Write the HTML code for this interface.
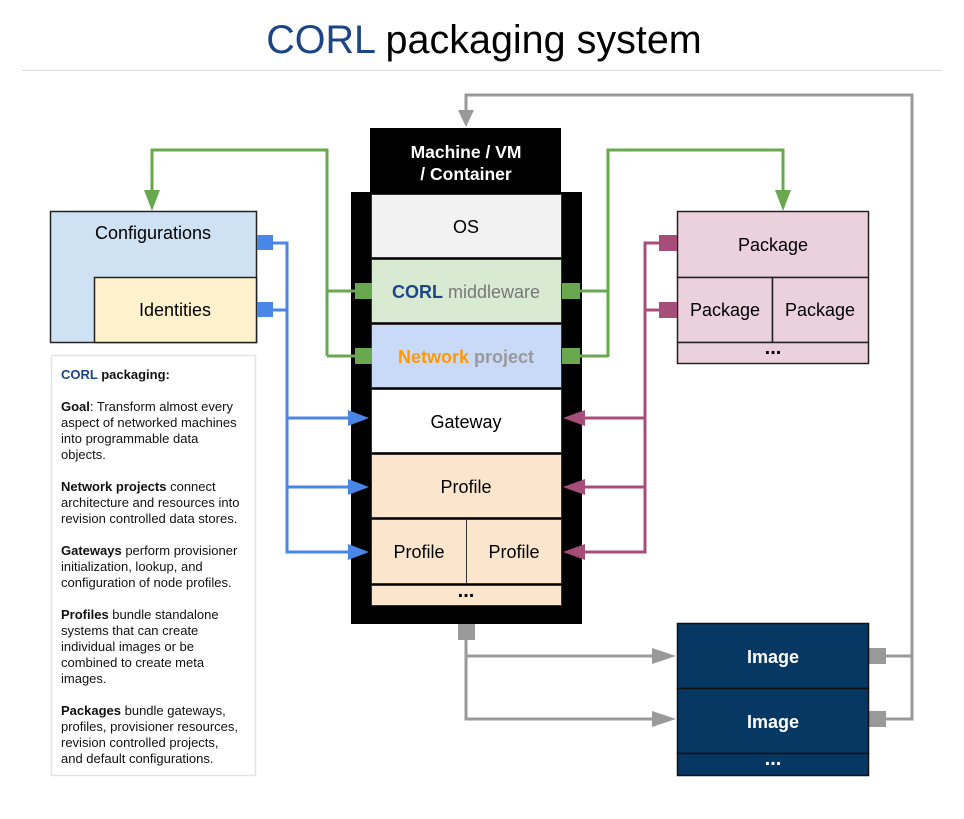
<!DOCTYPE html>
<html><head><meta charset="utf-8"><style>
body{margin:0;background:#fff;}
svg text{font-family:"Liberation Sans",Arial,sans-serif;}
</style></head><body>
<svg width="964" height="814" viewBox="0 0 964 814" xmlns="http://www.w3.org/2000/svg">
<rect width="964" height="814" fill="#fff"/>
<text x="484" y="53" font-size="39.5" text-anchor="middle"><tspan fill="#1c4587">CORL</tspan> packaging system</text>
<line x1="22" y1="70.5" x2="942" y2="70.5" stroke="#ddd" stroke-width="1"/>

<!-- gray top loop -->
<polyline points="886,719 912,719 912,95 466,95 466,112" fill="none" stroke="#999" stroke-width="3"/>
<line x1="886" y1="656" x2="912" y2="656" stroke="#999" stroke-width="3"/>
<polygon points="458,110 474,110 466,127" fill="#999"/>

<!-- machine -->
<rect x="370" y="128" width="191" height="66" fill="#000"/>
<text x="466" y="158" font-size="17.5" font-weight="bold" fill="#fff" text-anchor="middle">Machine / VM</text>
<text x="466" y="180" font-size="17.5" font-weight="bold" fill="#fff" text-anchor="middle">/ Container</text>
<rect x="351" y="192" width="231" height="432" fill="#000"/>
<g stroke="#333" stroke-width="1">
<rect x="371.5" y="194.5" width="190" height="63" fill="#f2f2f2"/>
<rect x="371.5" y="259.5" width="190" height="63" fill="#d9ead3"/>
<rect x="371.5" y="324.5" width="190" height="63" fill="#c9daf8"/>
<rect x="371.5" y="389.5" width="190" height="63" fill="#fff"/>
<rect x="371.5" y="454.5" width="190" height="63" fill="#fce5cd"/>
<rect x="371.5" y="519.5" width="95" height="64" fill="#fce5cd"/>
<rect x="466.5" y="519.5" width="95" height="64" fill="#fce5cd"/>
<rect x="371.5" y="585.5" width="190" height="20" fill="#fce5cd"/>
</g>
<text x="466" y="233" font-size="18" text-anchor="middle">OS</text>
<text x="466" y="298" font-size="18" text-anchor="middle"><tspan fill="#1c4587" font-weight="bold">CORL</tspan><tspan fill="#777"> middleware</tspan></text>
<text x="466" y="363" font-size="18" font-weight="bold" text-anchor="middle"><tspan fill="#ff9900">Network</tspan><tspan fill="#999"> project</tspan></text>
<text x="466" y="428" font-size="18" text-anchor="middle">Gateway</text>
<text x="466" y="493" font-size="18" text-anchor="middle">Profile</text>
<text x="419" y="558" font-size="18" text-anchor="middle">Profile</text>
<text x="514" y="558" font-size="18" text-anchor="middle">Profile</text>
<text x="466" y="597" font-size="20" font-weight="bold" text-anchor="middle">...</text>

<!-- green -->
<g stroke="#6aa84f" stroke-width="3" fill="none">
<polyline points="356,291 327,291 327,150 152,150 152,192"/>
<line x1="356" y1="356" x2="327" y2="356"/>
<line x1="327" y1="291" x2="327" y2="356"/>
<polyline points="580,291 608,291 608,150 783,150 783,192"/>
<line x1="580" y1="356" x2="608" y2="356"/>
<line x1="608" y1="291" x2="608" y2="357"/>
</g>
<polygon points="144,190 160,190 152,211" fill="#6aa84f"/>
<polygon points="775,190 791,190 783,211" fill="#6aa84f"/>
<g fill="#6aa84f">
<rect x="355" y="283" width="17" height="16"/><rect x="355" y="348" width="17" height="16"/>
<rect x="562" y="283" width="18" height="16"/><rect x="562" y="348" width="18" height="16"/>
</g>

<!-- configurations -->
<rect x="50.5" y="211.5" width="206" height="131" fill="#cfe2f3" stroke="#222" stroke-width="1.5"/>
<rect x="94.5" y="277.5" width="162" height="65" fill="#fff2cc" stroke="#222" stroke-width="1.5"/>
<text x="153" y="239" font-size="18" text-anchor="middle">Configurations</text>
<text x="175" y="316" font-size="18" text-anchor="middle">Identities</text>
<g stroke="#4a86e8" stroke-width="3" fill="none">
<polyline points="272,243 287,243 287,552 350,552"/>
<line x1="272" y1="310" x2="287" y2="310"/>
<line x1="287" y1="418" x2="350" y2="418"/>
<line x1="287" y1="487" x2="350" y2="487"/>
</g>
<g fill="#4a86e8">
<rect x="257" y="235" width="16" height="15"/><rect x="257" y="302" width="16" height="15"/>
<polygon points="348,410 348,426 369,418"/><polygon points="348,479 348,495 369,487"/><polygon points="348,544 348,560 369,552"/>
</g>

<!-- text box -->
<rect x="51.5" y="355.5" width="204" height="420" fill="#fff" stroke="#e3e3e3" stroke-width="1.5"/>
<g font-size="13" fill="#111">
<text x="61" y="379"><tspan fill="#1c4587" font-weight="bold">CORL</tspan><tspan font-weight="bold"> packaging:</tspan></text>
<text x="61" y="411"><tspan font-weight="bold">Goal</tspan>: Transform almost every</text>
<text x="61" y="427">aspect of networked machines</text>
<text x="61" y="443">into programmable data</text>
<text x="61" y="459">objects.</text>
<text x="61" y="491"><tspan font-weight="bold">Network projects</tspan> connect</text>
<text x="61" y="507">architecture and resources into</text>
<text x="61" y="523">revision controlled data stores.</text>
<text x="61" y="555"><tspan font-weight="bold">Gateways</tspan> perform provisioner</text>
<text x="61" y="571">initialization, lookup, and</text>
<text x="61" y="587">configuration of node profiles.</text>
<text x="61" y="619"><tspan font-weight="bold">Profiles</tspan> bundle standalone</text>
<text x="61" y="635">systems that can create</text>
<text x="61" y="651">individual images or be</text>
<text x="61" y="667">combined to create meta</text>
<text x="61" y="683">images.</text>
<text x="61" y="715"><tspan font-weight="bold">Packages</tspan> bundle gateways,</text>
<text x="61" y="731">profiles, provisioner resources,</text>
<text x="61" y="747">revision controlled projects,</text>
<text x="61" y="763">and default configurations.</text>
</g>

<!-- packages -->
<g stroke="#222" stroke-width="1.5">
<rect x="677.5" y="211.5" width="191" height="66" fill="#ead1dc"/>
<rect x="677.5" y="277.5" width="95" height="65" fill="#ead1dc"/>
<rect x="772.5" y="277.5" width="96" height="65" fill="#ead1dc"/>
<rect x="677.5" y="342.5" width="191" height="21" fill="#ead1dc"/>
</g>
<text x="773" y="251" font-size="18" text-anchor="middle">Package</text>
<text x="725" y="316" font-size="18" text-anchor="middle">Package</text>
<text x="820" y="316" font-size="18" text-anchor="middle">Package</text>
<text x="773" y="354" font-size="20" font-weight="bold" text-anchor="middle">...</text>
<g stroke="#a64d79" stroke-width="3" fill="none">
<polyline points="662,243 645,243 645,552 582,552"/>
<line x1="662" y1="310" x2="645" y2="310"/>
<line x1="645" y1="418" x2="582" y2="418"/>
<line x1="645" y1="487" x2="582" y2="487"/>
</g>
<g fill="#a64d79">
<rect x="659" y="235" width="18" height="16"/><rect x="659" y="302" width="18" height="16"/>
<polygon points="585,410 585,426 563,418"/><polygon points="585,479 585,495 563,487"/><polygon points="585,544 585,560 563,552"/>
</g>

<!-- gray lower -->
<g stroke="#999" stroke-width="3" fill="none">
<polyline points="466,638 466,719 656,719"/>
<line x1="466" y1="656" x2="656" y2="656"/>
</g>
<g fill="#999">
<rect x="458" y="624" width="17" height="16"/>
<polygon points="652,648 652,664 676,656"/><polygon points="652,711 652,727 676,719"/>
<rect x="868" y="648" width="18" height="16"/><rect x="868" y="711" width="18" height="16"/>
</g>

<!-- images -->
<g stroke="#111" stroke-width="1.5" fill="#073763">
<rect x="677.5" y="623.5" width="191" height="65"/>
<rect x="677.5" y="688.5" width="191" height="65"/>
<rect x="677.5" y="753.5" width="191" height="22"/>
</g>
<text x="773" y="663" font-size="18" font-weight="bold" fill="#fff" text-anchor="middle">Image</text>
<text x="773" y="728" font-size="18" font-weight="bold" fill="#fff" text-anchor="middle">Image</text>
<text x="773" y="765" font-size="20" font-weight="bold" fill="#fff" text-anchor="middle">...</text>
</svg>
</body></html>
